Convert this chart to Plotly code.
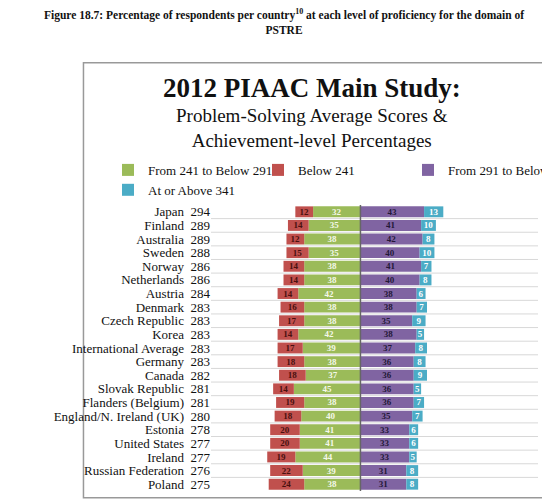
import plotly.graph_objects as go

countries = ["Japan","Finland","Australia","Sweden","Norway","Netherlands","Austria","Denmark",
             "Czech Republic","Korea","International Average","Germany","Canada","Slovak Republic",
             "Flanders (Belgium)","England/N. Ireland (UK)","Estonia","United States","Ireland",
             "Russian Federation","Poland"]
scores = [294,289,289,288,286,286,284,283,283,283,283,283,282,281,281,280,278,277,277,276,275]
below241 = [12,14,12,15,14,14,14,16,17,14,17,18,18,14,19,18,20,20,19,22,24]
l241_291 = [32,35,38,35,38,38,42,38,38,42,39,38,37,45,38,40,41,41,44,39,38]
l291_341 = [43,41,42,40,41,40,38,38,35,38,37,36,36,36,36,35,33,33,33,31,31]
above341 = [13,10,8,10,7,8,6,7,9,5,8,8,9,5,7,7,6,6,5,8,8]

labels = [f"{c}  {s}" for c, s in zip(countries, scores)]
serif = "Liberation Serif"

def bar(name, vals, sign, color, tcolor):
    return go.Bar(y=labels, x=[sign * v for v in vals], name=name, orientation="h",
                  marker=dict(color=color, line=dict(width=0)),
                  text=[f"<b>{v}</b>" for v in vals], textposition="inside", insidetextanchor="middle",
                  textangle=0, constraintext="none",
                  textfont=dict(family=serif, size=9, color=tcolor), width=0.8)

fig = go.Figure()
fig.add_trace(bar("From 241 to Below 291", l241_291, -1, "#9bbb59", "#f4f8ea"))
fig.add_trace(bar("Below 241", below241, -1, "#c0504d", "#4a1010"))
fig.add_trace(bar("From 291 to Below 341", l291_341, 1, "#8064a2", "#241838"))
fig.add_trace(bar("At or Above 341", above341, 1, "#4bacc6", "#ffffff"))

shapes = [dict(type="rect", xref="paper", yref="paper", x0=-0.39, x1=1.015, y0=-0.024, y1=1.497,
               line=dict(color="#999", width=1.5), layer="below")]
for i in range(len(labels) - 1):
    shapes.append(dict(type="line", xref="paper", yref="y", x0=0, x1=1, y0=i + 0.5, y1=i + 0.5,
                       line=dict(color="#d8d8d8", width=1), layer="below"))
shapes.append(dict(type="line", xref="x", yref="paper", x0=0, x1=0, y0=0, y1=1,
                   line=dict(color="#666", width=1.5)))

fig.update_layout(
    width=550, height=500, barmode="relative",
    margin=dict(l=203, r=20, t=197, b=17),
    paper_bgcolor="white", plot_bgcolor="white",
    font=dict(family=serif, color="#111"),
    uniformtext=dict(minsize=9, mode="show"),
    xaxis=dict(range=[-101, 120], visible=False, fixedrange=True),
    yaxis=dict(autorange="reversed", tickfont=dict(size=13, family=serif), showgrid=False,
               ticks="", showline=False, tickmode="array", tickvals=labels, ticktext=labels),
    showlegend=True,
    legend=dict(orientation="h", x=-0.21, y=1.175, xanchor="left", yanchor="top",
                entrywidthmode="pixels", entrywidth=105, traceorder="normal",
                font=dict(size=13, family=serif), itemwidth=30, tracegroupgap=0),
    shapes=shapes,
    annotations=[
        dict(text="<b>Figure 18.7: Percentage of respondents per country<sup>10</sup> at each level of proficiency for the domain of<br>PSTRE</b>",
             xref="paper", yref="paper", x=0.222, y=1.64, xanchor="center", yanchor="middle",
             showarrow=False, font=dict(family=serif, size=11.5)),
        dict(text="<b>2012 PIAAC Main Study:</b>", xref="paper", yref="paper", x=0.31, y=1.41,
             xanchor="center", yanchor="middle", showarrow=False, font=dict(family=serif, size=27)),
        dict(text="Problem-Solving Average Scores &amp;<br>Achievement-level Percentages", xref="paper", yref="paper",
             x=0.31, y=1.27, xanchor="center", yanchor="middle", showarrow=False,
             font=dict(family=serif, size=19)),
    ],
)
fig.write_html("out.html")
